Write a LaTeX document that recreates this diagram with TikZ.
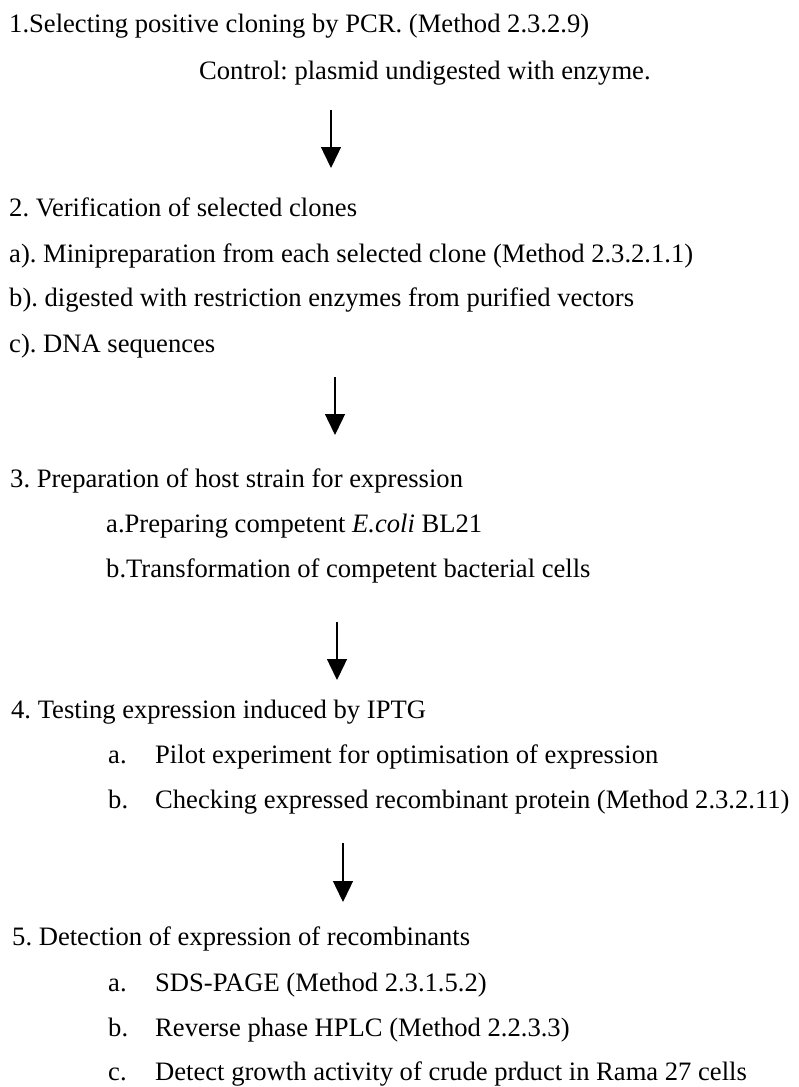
\documentclass[tikz,border=0pt]{standalone}
\usepackage{fontspec}
\setmainfont{Liberation Serif}
\usetikzlibrary{arrows.meta}
\frenchspacing
\begin{document}
\begin{tikzpicture}[x=1pt,y=-1pt,
  txt/.style={anchor=base west, inner sep=0pt, font=\fontsize{26.6}{30}\selectfont},
  flowarrow/.style={-{Triangle[length=21pt,width=20pt]}, line width=1.4pt}]
\useasboundingbox[fill=white] (0,0) rectangle (798,1087);

% Step 1
\node[txt] (s1) at (9,32) {1.Selecting positive cloning by PCR. (Method 2.3.2.9)};
\node[txt] (s1c) at (199,79) {Control: plasmid undigested with enzyme.};

% Step 2
\node[txt] (s2) at (9,216) {2. Verification of selected clones};
\node[txt] (s2a) at (9,262) {a). Minipreparation from each selected clone (Method 2.3.2.1.1)};
\node[txt] (s2b) at (9,306) {b). digested with restriction enzymes from purified vectors};
\node[txt] (s2c) at (9,352) {c). DNA sequences};

% Step 3
\node[txt] (s3) at (10,487) {3. Preparation of host strain for expression};
\node[txt] (s3a) at (106,532) {a.Preparing competent \textit{E.coli} BL21};
\node[txt] (s3b) at (106,577) {b.Transformation of competent bacterial cells};

% Step 4
\node[txt] (s4) at (11,718) {4. Testing expression induced by IPTG};
\node[txt] (s4al) at (108,763) {a.};
\node[txt] (s4a) at (155,763) {Pilot experiment for optimisation of expression};
\node[txt] (s4bl) at (108,808) {b.};
\node[txt] (s4b) at (155,808) {Checking expressed recombinant protein (Method 2.3.2.11)};

% Step 5
\node[txt] (s5) at (12,945) {5. Detection of expression of recombinants};
\node[txt] (s5al) at (108,991) {a.};
\node[txt] (s5a) at (155,991) {SDS-PAGE (Method 2.3.1.5.2)};
\node[txt] (s5bl) at (108,1036) {b.};
\node[txt] (s5b) at (155,1036) {Reverse phase HPLC (Method 2.2.3.3)};
\node[txt] (s5cl) at (108,1080) {c.};
\node[txt] (s5c) at (155,1080) {Detect growth activity of crude prduct in Rama 27 cells};

% Arrows
\coordinate (a1s) at (331,110); \coordinate (a1e) at (331,168);
\coordinate (a2s) at (335,377); \coordinate (a2e) at (335,435);
\coordinate (a3s) at (337,622); \coordinate (a3e) at (337,680);
\coordinate (a4s) at (343,843); \coordinate (a4e) at (343,902);
\draw[flowarrow] (a1s) -- (a1e);
\draw[flowarrow] (a2s) -- (a2e);
\draw[flowarrow] (a3s) -- (a3e);
\draw[flowarrow] (a4s) -- (a4e);
\end{tikzpicture}
\end{document}
